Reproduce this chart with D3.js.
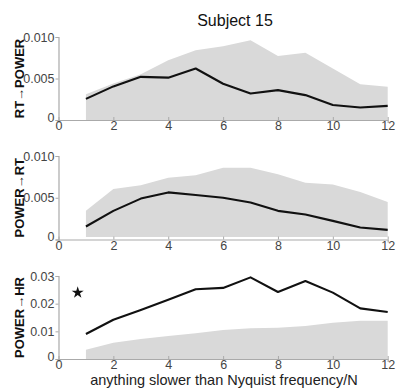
<!DOCTYPE html>
<html>
<head>
<meta charset="utf-8">
<script src="https://cdn.jsdelivr.net/npm/d3@7"></script>
<style>
  body { margin: 0; background: #fff; }
  text { font-family: "Liberation Sans", Arial, sans-serif; }
</style>
</head>
<body>
<svg id="chart" width="403" height="392"></svg>
<script>
const lags = [1, 2, 3, 4, 5, 6, 7, 8, 9, 10, 11, 12];

// RT -> POWER
const rtPower = [0.00254, 0.00405, 0.0052, 0.0051, 0.0062, 0.00437, 0.0032, 0.0036, 0.0030, 0.0018, 0.0015, 0.0017];
const rtPowerHi = [0.0031, 0.0044, 0.0055, 0.0072, 0.0084, 0.0089, 0.0096, 0.0077, 0.0081, 0.0062, 0.0043, 0.0040];
const rtPowerLo = [0, 0, 0, 0, 0, 0, 0, 0, 0, 0, 0, 0];

// POWER -> RT
const powerRt = [0.00156, 0.00343, 0.0049, 0.00564, 0.00532, 0.0050, 0.00444, 0.00343, 0.0030, 0.00223, 0.00144, 0.00115];
const powerRtHi = [0.00343, 0.00604, 0.0065, 0.0074, 0.0077, 0.0086, 0.0086, 0.0078, 0.0068, 0.0066, 0.0057, 0.0045];
const powerRtLo = [0.0003, 0.0003, 0.0003, 0.0003, 0.0003, 0.0003, 0.0003, 0.0003, 0.0003, 0.0003, 0.0003, 0.0003];

// POWER -> HR
const powerHr = [0.00904, 0.0142, 0.0177, 0.0214, 0.0252, 0.0257, 0.0295, 0.0242, 0.0282, 0.0240, 0.0183, 0.0170];
const powerHrHi = [0.0033, 0.0059, 0.0072, 0.0083, 0.0093, 0.0105, 0.0111, 0.0113, 0.0119, 0.0131, 0.0138, 0.0138];
const powerHrLo = [0, 0, 0, 0, 0, 0, 0, 0, 0, 0, 0, 0];

const xTicks = [0, 2, 4, 6, 8, 10, 12];

const panels = [
  { label: 'RT\u2192POWER', vals: rtPower, hi: rtPowerHi, lo: rtPowerLo, max: 0.01, ticks: [0, 0.005, 0.01], fmt: d => d === 0 ? '0' : d3.format('.3f')(d), top: 37, bottom: 120 },
  { label: 'POWER\u2192RT', vals: powerRt, hi: powerRtHi, lo: powerRtLo, max: 0.01, ticks: [0, 0.005, 0.01], fmt: d => d === 0 ? '0' : d3.format('.3f')(d), top: 156, bottom: 239.5 },
  { label: 'POWER\u2192HR', vals: powerHr, hi: powerHrHi, lo: powerHrLo, max: 0.03, ticks: [0, 0.01, 0.02, 0.03], fmt: d => d === 0 ? '0' : d3.format('.2f')(d), top: 276, bottom: 359, star: true }
];

const svg = d3.select('#chart');
const left = 58.5, right = 387.7;

const x = d3.scaleLinear().domain([0, 12]).range([left, right]);

svg.append('text')
  .attr('x', 235).attr('y', 26)
  .attr('text-anchor', 'middle')
  .attr('font-size', 16)
  .attr('fill', '#111')
  .text('Subject 15');

panels.forEach(p => {
  const y = d3.scaleLinear().domain([0, p.max]).range([p.bottom, p.top]);
  const g = svg.append('g');

  // shaded band
  const area = d3.area()
    .x((d, i) => x(lags[i]))
    .y0((d, i) => y(p.lo[i]))
    .y1(d => y(d));
  g.append('path')
    .datum(p.hi)
    .attr('fill', '#d9d9d9')
    .attr('d', area);

  // axes
  const yAxis = g.append('g')
    .attr('transform', `translate(${left},0)`)
    .call(d3.axisLeft(y).tickValues(p.ticks).tickFormat(p.fmt).tickSize(3).tickPadding(1));
  const xAxis = g.append('g')
    .attr('transform', `translate(0,${p.bottom})`)
    .call(d3.axisBottom(x).tickValues(xTicks).tickSize(3).tickPadding(-1.5));
  [yAxis, xAxis].forEach(a => {
    a.select('.domain').attr('stroke', '#aaa').attr('stroke-width', 1.2);
    a.selectAll('.tick line').attr('stroke', '#aaa');
    a.selectAll('.tick text').attr('fill', '#444').attr('font-size', 12.5)
      .style('font-family', '"Liberation Sans", Arial, sans-serif');
  });
  xAxis.selectAll('.tick line').attr('y2', -3);
  yAxis.selectAll('.tick text').filter(d => d === 0).attr('dy', '0.1em').attr('x', -4);

  // mean line
  const line = d3.line()
    .x((d, i) => x(lags[i]))
    .y(d => y(d));
  g.append('path')
    .datum(p.vals)
    .attr('fill', 'none')
    .attr('stroke', '#111')
    .attr('stroke-width', 2.1)
    .attr('stroke-linejoin', 'round')
    .attr('d', line);

  // y label
  svg.append('text')
    .attr('transform', `translate(24,${(p.top + p.bottom) / 2}) rotate(-90)`)
    .attr('text-anchor', 'middle')
    .attr('font-size', 13)
    .attr('font-weight', 'bold')
    .attr('fill', '#111')
    .text(p.label);

  if (p.star) {
    svg.append('path')
      .attr('d', d3.symbol(d3.symbolStar, 45)())
      .attr('transform', `translate(${x(0.7)},${y(0.024)})`)
      .attr('fill', '#111');
  }
});

svg.append('text')
  .attr('x', 224).attr('y', 385)
  .attr('text-anchor', 'middle')
  .attr('font-size', 14.5)
  .attr('fill', '#222')
  .text('anything slower than Nyquist frequency/N');
</script>
</body>
</html>
